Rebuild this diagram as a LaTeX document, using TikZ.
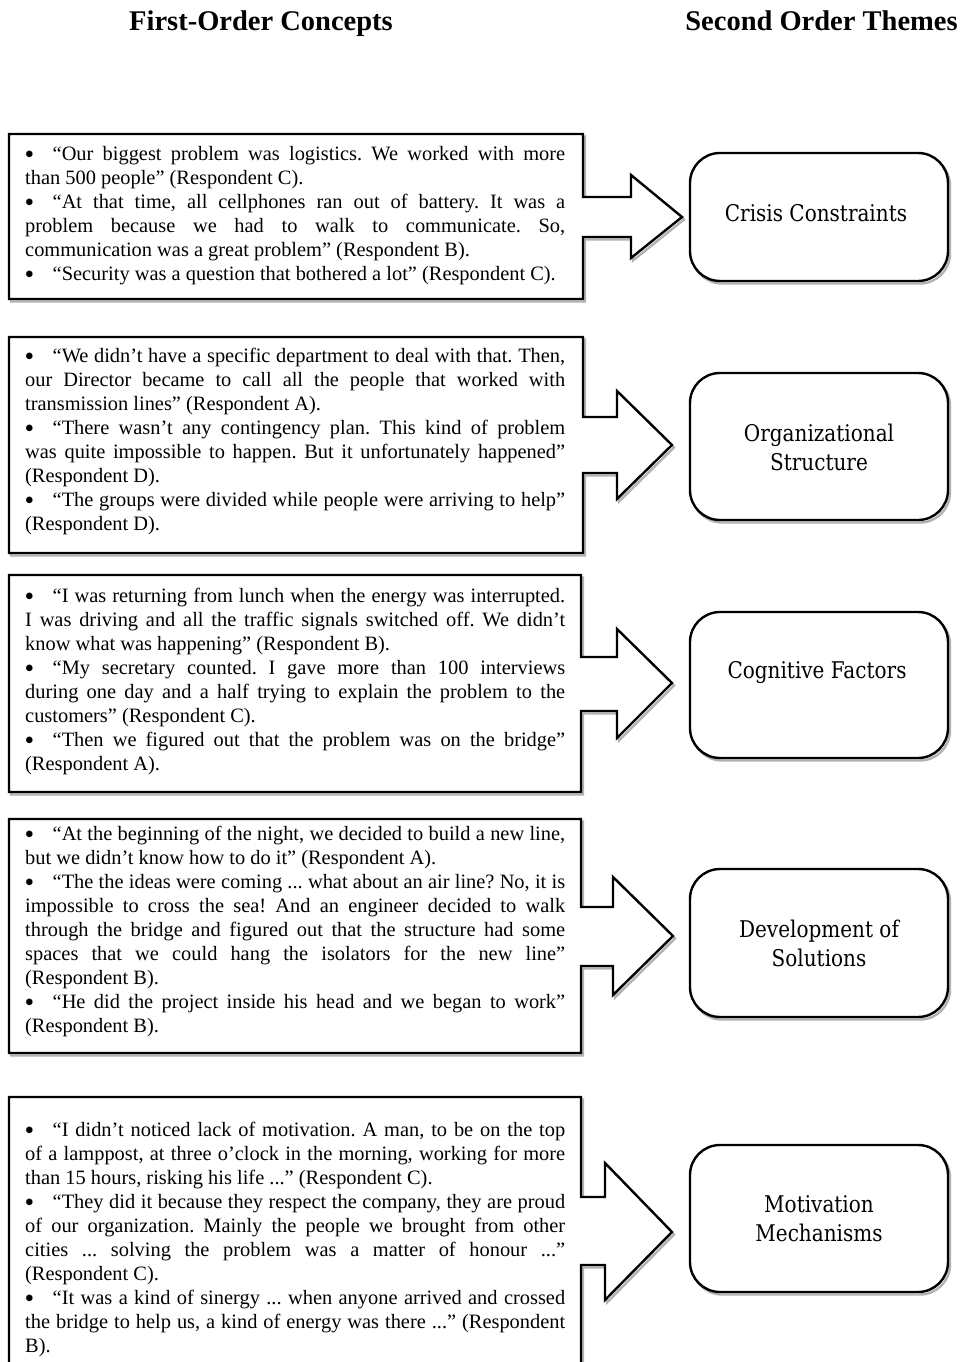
\documentclass[tikz,border=0pt]{standalone}
\usepackage{fontspec}
\setmainfont{Liberation Serif}
\newfontfamily\boxfont[FakeStretch=0.87]{DejaVu Serif}
\frenchspacing
\newcommand\jl[1]{\par\hbox to \hsize{\strut #1}}
\newcommand\el[1]{\par\hbox{\strut #1}}
\newcommand\bl{\hspace*{-0.5pt}\makebox[28pt][l]{\raisebox{-2.5pt}{\scalebox{1.35}{•}}}}
\tikzset{
  callout/.style={draw=black, line width=2.4pt, fill=white, line join=miter},
  calloutshadow/.style={draw=black!30, line width=2.4pt, line join=miter},
  theme/.style={draw=black, line width=2.4pt, fill=white, rounded corners=30pt},
  themeshadow/.style={draw=black!30, line width=2.4pt, rounded corners=30pt},
  quotes/.style={anchor=north west, inner sep=0pt, font=\frenchspacing\fontsize{20.4}{24}\selectfont},
  themetext/.style={align=center, inner sep=0pt, font=\boxfont\fontsize{23}{29}\selectfont},
  header/.style={anchor=base, inner sep=0pt, font=\fontsize{28.5}{32}\selectfont\bfseries}
}
\begin{document}
\begin{tikzpicture}[x=1pt,y=-1pt]
\fill[white] (0,0) rectangle (960,1362);
\useasboundingbox (0,0) rectangle (960,1362);

% headers
\node[header] (h1) at (261,31) {First-Order Concepts};
\node[header] (h2) at (821.5,31) {Second Order Themes};

% callout boxes: T R B st sb hx ht hb tx ty
\foreach \T/\R/\B/\st/\sb/\hx/\ht/\hb/\tx/\ty in {
  134/583/299/197/237/631/175/258/682/217,
  337/583/553/417/473/617/391/499/672/445,
  575/581/792/657/711/617/629/738/672/683,
  819/581/1053/907/966/613/877/995/673/936,
  1097/581/1380/1197/1265/605/1163/1300/672/1232}{
  \draw[calloutshadow, shift={(2,2.5)}] (9,\T) -- (\R,\T) -- (\R,\st) -- (\hx,\st) -- (\hx,\ht) -- (\tx,\ty) -- (\hx,\hb) -- (\hx,\sb) -- (\R,\sb) -- (\R,\B) -- (9,\B) -- cycle;
  \draw[callout] (9,\T) -- (\R,\T) -- (\R,\st) -- (\hx,\st) -- (\hx,\ht) -- (\tx,\ty) -- (\hx,\hb) -- (\hx,\sb) -- (\R,\sb) -- (\R,\B) -- (9,\B) -- cycle;
}

% theme boxes
\foreach \T/\B in {153/281, 373/520, 612/758, 869/1017, 1145/1292}{
  \draw[themeshadow, shift={(2,2.5)}] (690,\T) rectangle (948,\B);
  \draw[theme] (690,\T) rectangle (948,\B);
}

\node[themetext] (t1) at (816,213) {Crisis Constraints};
\node[themetext] (t2) at (819,447) {Organizational\\Structure};
\node[themetext] (t3) at (817,673) {Cognitive Factors};
\node[themetext] (t4) at (819,943) {Development of\\Solutions};
\node[themetext] (t5) at (819,1219) {Motivation\\Mechanisms};

% quotes
\node[quotes] (q1) at (25,143.7) {\vtop{\hsize=540pt
\jl{\bl “Our biggest problem was logistics. We worked with more}
\el{than 500 people” (Respondent C).}
\jl{\bl “At that time, all cellphones ran out of battery. It was a}
\jl{problem because we had to walk to communicate. So,}
\el{communication was a great problem” (Respondent B).}
\el{\bl “Security was a question that bothered a lot” (Respondent C).}}};

\node[quotes] (q2) at (25,345.7) {\vtop{\hsize=540pt
\jl{\bl “We didn’t have a specific department to deal with that. Then,}
\jl{our Director became to call all the people that worked with}
\el{transmission lines” (Respondent A).}
\jl{\bl “There wasn’t any contingency plan. This kind of problem}
\jl{was quite impossible to happen. But it unfortunately happened”}
\el{(Respondent D).}
\jl{\bl “The groups were divided while people were arriving to help”}
\el{(Respondent D).}}};

\node[quotes] (q3) at (25,585.7) {\vtop{\hsize=540pt
\jl{\bl “I was returning from lunch when the energy was interrupted.}
\jl{I was driving and all the traffic signals switched off. We didn’t}
\el{know what was happening” (Respondent B).}
\jl{\bl “My secretary counted. I gave more than 100 interviews}
\jl{during one day and a half trying to explain the problem to the}
\el{customers” (Respondent C).}
\jl{\bl “Then we figured out that the problem was on the bridge”}
\el{(Respondent A).}}};

\node[quotes] (q4) at (25,823.7) {\vtop{\hsize=540pt
\jl{\bl “At the beginning of the night, we decided to build a new line,}
\el{but we didn’t know how to do it” (Respondent A).}
\jl{\bl “The the ideas were coming ... what about an air line? No, it is}
\jl{impossible to cross the sea! And an engineer decided to walk}
\jl{through the bridge and figured out that the structure had some}
\jl{spaces that we could hang the isolators for the new line”}
\el{(Respondent B).}
\jl{\bl “He did the project inside his head and we began to work”}
\el{(Respondent B).}}};

\node[quotes] (q5) at (25,1119.7) {\vtop{\hsize=540pt
\jl{\bl “I didn’t noticed lack of motivation. A man, to be on the top}
\jl{of a lamppost, at three o’clock in the morning, working for more}
\el{than 15 hours, risking his life ...” (Respondent C).}
\jl{\bl “They did it because they respect the company, they are proud}
\jl{of our organization. Mainly the people we brought from other}
\jl{cities ... solving the problem was a matter of honour ...”}
\el{(Respondent C).}
\jl{\bl “It was a kind of sinergy ... when anyone arrived and crossed}
\jl{the bridge to help us, a kind of energy was there ...” (Respondent}
\el{B).}}};
\end{tikzpicture}
\end{document}
